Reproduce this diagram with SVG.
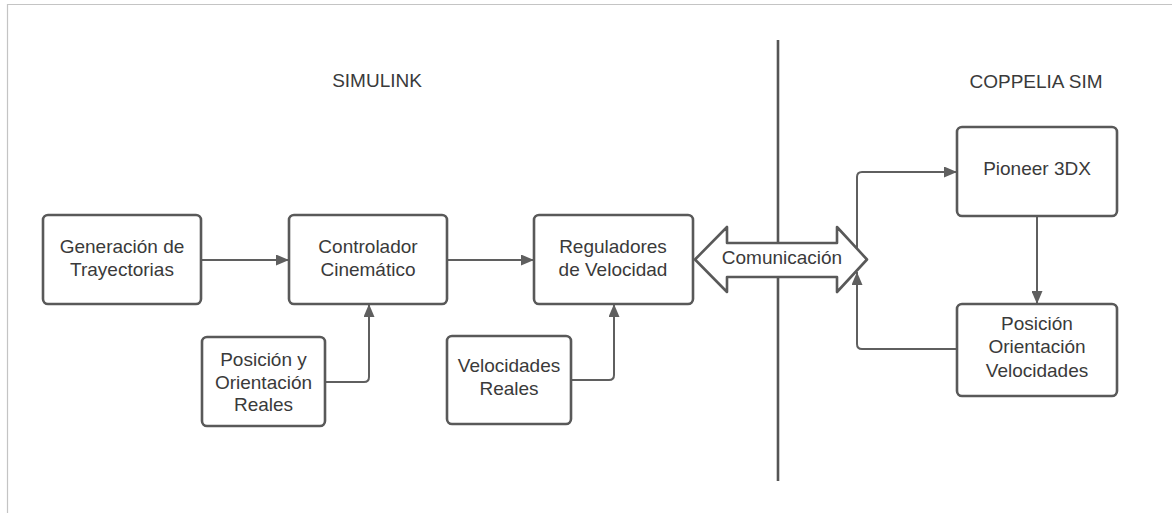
<svg xmlns="http://www.w3.org/2000/svg" width="1172" height="513" viewBox="0 0 1172 513">
<style>
.box{fill:#fff;stroke:#595959;stroke-width:2.6}
.t{font-family:"Liberation Sans",Arial,sans-serif;font-size:19px;fill:#3a3a3a;text-anchor:middle}
.c{fill:none;stroke:#5f5f5f;stroke-width:2}
.frame{fill:none;stroke:#c4c4c4;stroke-width:1.2}
</style>
<defs>
<marker id="ah" markerUnits="userSpaceOnUse" markerWidth="13" markerHeight="11" refX="13" refY="5.5" orient="auto">
<path d="M0,0 L13,5.5 L0,11 z" fill="#5f5f5f"/>
</marker>
</defs>
<rect width="1172" height="513" fill="#fff"/>
<path class="frame" d="M7.5,513 V4.5 H1172"/>
<text class="t" x="377" y="87">SIMULINK</text>
<text class="t" x="1036" y="88">COPPELIA SIM</text>
<line x1="778" y1="40" x2="778" y2="481" stroke="#555" stroke-width="2.6"/>
<g id="connectors">
<path class="c" marker-end="url(#ah)" d="M201,260 H289"/>
<path class="c" marker-end="url(#ah)" d="M447,260 H534"/>
<path class="c" marker-end="url(#ah)" d="M325,382 H364 Q369,382 369,377 V304"/>
<path class="c" marker-end="url(#ah)" d="M571,380 H609 Q614,380 614,375 V304"/>
<path class="c" marker-end="url(#ah)" d="M857,250 V177 Q857,172 862,172 H957"/>
<path class="c" marker-end="url(#ah)" d="M1037,216 V304"/>
<path class="c" marker-end="url(#ah)" d="M957,349 H862 Q857,349 857,344 V272"/>
</g>
<g id="gen">
<rect class="box" x="43" y="215" width="158" height="89" rx="5"/>
<text class="t" x="122" y="253">Generación de</text>
<text class="t" x="122" y="276">Trayectorias</text>
</g>
<g id="ctrl">
<rect class="box" x="289" y="215" width="158" height="89" rx="5"/>
<text class="t" x="368" y="253">Controlador</text>
<text class="t" x="368" y="276">Cinemático</text>
</g>
<g id="reg">
<rect class="box" x="534" y="215" width="159" height="89" rx="5"/>
<text class="t" x="613" y="253">Reguladores</text>
<text class="t" x="613" y="276">de Velocidad</text>
</g>
<g id="posreal">
<rect class="box" x="202" y="337" width="123" height="89" rx="5"/>
<text class="t" x="263.5" y="366">Posición y</text>
<text class="t" x="263.5" y="388.5">Orientación</text>
<text class="t" x="263.5" y="411">Reales</text>
</g>
<g id="velreal">
<rect class="box" x="447" y="336" width="124" height="88" rx="5"/>
<text class="t" x="509" y="372">Velocidades</text>
<text class="t" x="509" y="395">Reales</text>
</g>
<g id="comm">
<polygon points="695,259.5 727,227 727,243 837,243 837,227 867,259.5 837,292 837,277 727,277 727,292" fill="#fff" stroke="#595959" stroke-width="2.6" stroke-linejoin="round"/>
<text class="t" x="782" y="264">Comunicación</text>
</g>
<g id="pioneer">
<rect class="box" x="957" y="127" width="160" height="89" rx="5"/>
<text class="t" x="1037" y="175">Pioneer 3DX</text>
</g>
<g id="posori">
<rect class="box" x="957" y="304" width="160" height="92" rx="5"/>
<text class="t" x="1037" y="329.5">Posición</text>
<text class="t" x="1037" y="353">Orientación</text>
<text class="t" x="1037" y="376.5">Velocidades</text>
</g>
</svg>
